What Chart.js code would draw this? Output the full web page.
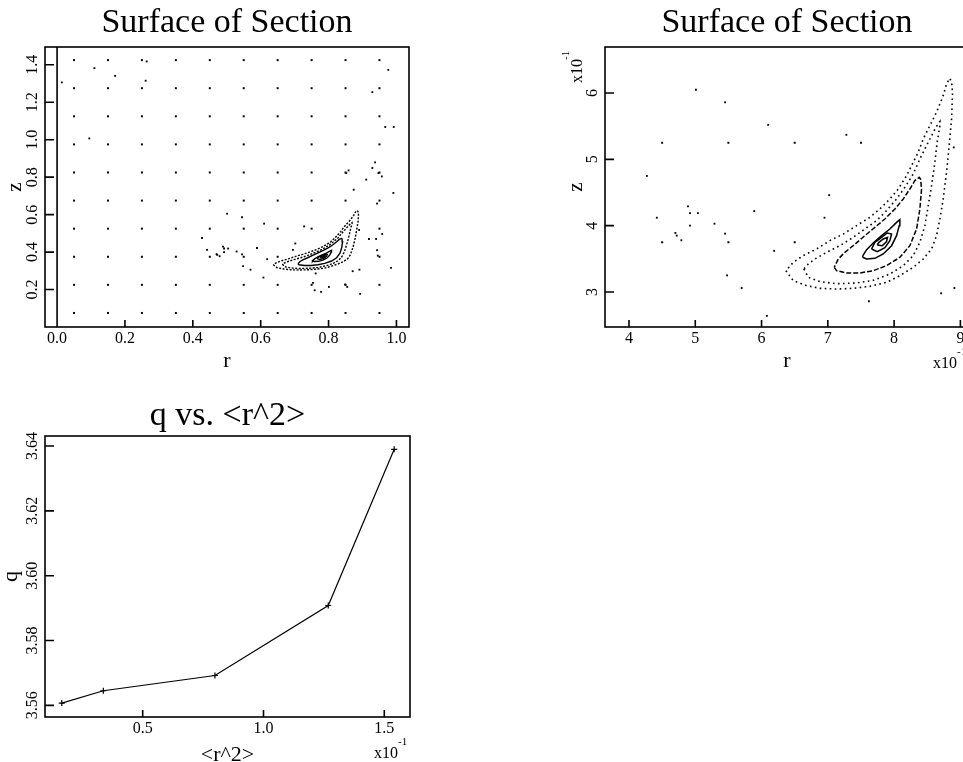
<!DOCTYPE html>
<html>
<head>
<meta charset="utf-8">
<title>Surface of Section</title>
<script src="https://cdn.jsdelivr.net/npm/chart.js@4.4.1/dist/chart.umd.min.js"></script>
<style>
  html, body { margin: 0; padding: 0; width: 963px; height: 762px; overflow: hidden; background: #fff; }
  canvas { position: absolute; }
  #sectionFull { left: 0; top: 0; }
  #sectionZoom { left: 540px; top: 0; }
  #qPlot { left: 0; top: 380px; }
</style>
</head>
<body>
<canvas id="sectionFull" width="440" height="372"></canvas>
<canvas id="sectionZoom" width="460" height="372"></canvas>
<canvas id="qPlot" width="440" height="382"></canvas>
<script>
// launch grid for the section, r and z
const gridR = [0.05, 0.15, 0.25, 0.35, 0.45, 0.55, 0.65, 0.75, 0.85, 0.95];
const gridZ = [0.075, 0.225, 0.375, 0.525, 0.675, 0.825, 0.975, 1.125, 1.275, 1.425];
// grid cells that stay bound (their orbits are the closed curves)
const gridBound = [[0.75, 0.375], [0.85, 0.375], [0.85, 0.525]];

// scattered crossings of escaping orbits
const strayPoints = [
    [0.501, 0.605], [0.545, 0.586], [0.610, 0.552], [0.728, 0.537], [0.890, 0.518],
    [0.427, 0.475], [0.702, 0.446], [0.489, 0.429], [0.492, 0.419], [0.504, 0.419],
    [0.589, 0.422], [0.442, 0.412], [0.695, 0.412], [0.529, 0.403], [0.492, 0.400],
    [0.470, 0.389], [0.472, 0.385], [0.545, 0.388], [0.479, 0.378], [0.619, 0.362],
    [0.548, 0.325], [0.570, 0.306], [0.891, 0.306], [0.871, 0.298], [0.762, 0.286],
    [0.608, 0.264],
    [0.014, 1.306], [0.110, 1.382], [0.171, 1.341], [0.264, 1.418], [0.261, 1.315],
    [0.095, 1.007], [0.976, 1.373], [0.929, 1.254], [0.967, 1.068], [0.992, 1.068],
    [0.937, 0.879], [0.929, 0.849], [0.859, 0.836], [0.852, 0.822], [0.947, 0.822],
    [0.957, 0.804], [0.911, 0.787], [0.874, 0.733], [0.991, 0.716], [0.943, 0.659],
    [0.958, 0.497], [0.919, 0.470], [0.940, 0.470], [0.943, 0.410], [0.945, 0.381],
    [0.984, 0.316], [0.849, 0.227], [0.855, 0.214], [0.893, 0.177], [0.754, 0.236],
    [0.759, 0.196], [0.778, 0.188], [0.801, 0.214]
];

// invariant curves around the stable orbit, outermost first
const orbitOuter = [
    [0.6368, 0.3321], [0.6478, 0.3171], [0.6680, 0.3095], [0.6881, 0.3055], [0.7132, 0.3045],
    [0.7383, 0.3055], [0.7635, 0.3085], [0.7886, 0.3145], [0.8087, 0.3246], [0.8288, 0.3372],
    [0.8439, 0.3497], [0.8565, 0.3648], [0.8640, 0.3849], [0.8691, 0.4101], [0.8741, 0.4402],
    [0.8791, 0.4805], [0.8831, 0.5207], [0.8867, 0.5609], [0.8882, 0.6011], [0.8867, 0.6162],
    [0.8841, 0.6222], [0.8791, 0.6137], [0.8741, 0.5961], [0.8640, 0.5710], [0.8540, 0.5508],
    [0.8439, 0.5307], [0.8364, 0.5106], [0.8288, 0.4955], [0.8188, 0.4754], [0.8062, 0.4553],
    [0.7936, 0.4402], [0.7786, 0.4252], [0.7635, 0.4126], [0.7434, 0.4000], [0.7233, 0.3874],
    [0.7031, 0.3774], [0.6830, 0.3648], [0.6629, 0.3548], [0.6478, 0.3447]
];
const orbitSecond = [
    [0.6639, 0.3347], [0.6705, 0.3221], [0.6881, 0.3156], [0.7132, 0.3125], [0.7434, 0.3135],
    [0.7685, 0.3176], [0.7936, 0.3271], [0.8138, 0.3397], [0.8288, 0.3548], [0.8389, 0.3749],
    [0.8464, 0.4000], [0.8515, 0.4302], [0.8565, 0.4603], [0.8615, 0.4955], [0.8650, 0.5257],
    [0.8691, 0.5508], [0.8691, 0.5569], [0.8630, 0.5483], [0.8515, 0.5257], [0.8389, 0.5006],
    [0.8288, 0.4779], [0.8163, 0.4578], [0.8037, 0.4402], [0.7886, 0.4226], [0.7735, 0.4076],
    [0.7559, 0.3950], [0.7383, 0.3824], [0.7182, 0.3698], [0.6981, 0.3598], [0.6805, 0.3497],
    [0.6705, 0.3422]
];
const orbitMiddle = [
    [0.7097, 0.3372], [0.7132, 0.3321], [0.7283, 0.3286], [0.7484, 0.3286], [0.7685, 0.3321],
    [0.7886, 0.3397], [0.8087, 0.3523], [0.8238, 0.3698], [0.8339, 0.3950], [0.8389, 0.4252],
    [0.8414, 0.4553], [0.8399, 0.4704], [0.8379, 0.4729], [0.8313, 0.4679], [0.8238, 0.4553],
    [0.8138, 0.4402], [0.8012, 0.4252], [0.7861, 0.4101], [0.7710, 0.3975], [0.7559, 0.3849],
    [0.7383, 0.3698], [0.7258, 0.3598], [0.7157, 0.3497]
];
const orbitInner = [
    [0.7524, 0.3523], [0.7585, 0.3497], [0.7710, 0.3507], [0.7836, 0.3573], [0.7962, 0.3698],
    [0.8037, 0.3849], [0.8077, 0.4000], [0.8087, 0.4091], [0.8037, 0.4050], [0.7936, 0.3950],
    [0.7811, 0.3849], [0.7685, 0.3739], [0.7585, 0.3638], [0.7534, 0.3558]
];
const orbitSmall = [
    [0.7660, 0.3648], [0.7745, 0.3608], [0.7861, 0.3668], [0.7936, 0.3774], [0.7962, 0.3874],
    [0.7896, 0.3890], [0.7811, 0.3824], [0.7710, 0.3749]
];
const orbitCore = [
    [0.7745, 0.3709], [0.7821, 0.3698], [0.7886, 0.3759], [0.7901, 0.3824], [0.7836, 0.3799],
    [0.7771, 0.3749]
];

// q against the mean square radius
const r2Mean = [0.0165, 0.0337, 0.0799, 0.1268, 0.1541];
const qValue = [3.5607, 3.5645, 3.5692, 3.5908, 3.6390];

// tick values and labels
const fullTicksR = [0, 0.2, 0.4, 0.6, 0.8, 1.0];
const fullLabelsR = ['0.0', '0.2', '0.4', '0.6', '0.8', '1.0'];
const fullTicksZ = [0.2, 0.4, 0.6, 0.8, 1.0, 1.2, 1.4];
const fullLabelsZ = ['0.2', '0.4', '0.6', '0.8', '1.0', '1.2', '1.4'];
const zoomTicksR = [0.4, 0.5, 0.6, 0.7, 0.8, 0.9];
const zoomLabelsR = ['4', '5', '6', '7', '8', '9'];
const zoomTicksZ = [0.3, 0.4, 0.5, 0.6];
const zoomLabelsZ = ['3', '4', '5', '6'];
const qTicksX = [0.05, 0.10, 0.15];
const qLabelsX = ['0.5', '1.0', '1.5'];
const qTicksY = [3.56, 3.58, 3.60, 3.62, 3.64];
const qLabelsY = ['3.56', '3.58', '3.60', '3.62', '3.64'];

const SERIF = '"Liberation Serif", "DejaVu Serif", serif';

function toXY(pairs) {
    return pairs.map(([x, y]) => ({ x, y }));
}

function closed(pairs) {
    return toXY(pairs.concat([pairs[0]]));
}

function gridPoints() {
    const pts = [];
    gridR.forEach(r => gridZ.forEach(z => {
        if (!gridBound.some(([br, bz]) => br === r && bz === z)) pts.push({ x: r, y: z });
    }));
    return pts;
}

function rotatedText(ctx, text, x, y, font) {
    ctx.save();
    ctx.font = font;
    ctx.translate(x, y);
    ctx.rotate(-Math.PI / 2);
    ctx.fillText(text, 0, 0);
    ctx.restore();
}

// box, inward ticks, labels and titles drawn from the chart's own scales
function framePlugin(o) {
    return {
        id: 'frame',
        afterDraw(chart) {
            const { ctx, chartArea: a, scales: { x, y } } = chart;
            ctx.save();
            ctx.strokeStyle = '#000';
            ctx.fillStyle = '#000';
            ctx.lineWidth = 1.6;
            ctx.strokeRect(a.left, a.top, a.right - a.left, a.bottom - a.top);

            ctx.beginPath();
            if (o.zeroLine) {
                const px = x.getPixelForValue(0);
                ctx.moveTo(px, a.top);
                ctx.lineTo(px, a.bottom);
            }
            o.xTicks.forEach(v => {
                const px = x.getPixelForValue(v);
                ctx.moveTo(px, a.bottom);
                ctx.lineTo(px, a.bottom - 7);
            });
            o.yTicks.forEach(v => {
                const py = y.getPixelForValue(v);
                ctx.moveTo(a.left, py);
                ctx.lineTo(a.left + 9, py);
            });
            ctx.stroke();

            ctx.textAlign = 'center';
            ctx.textBaseline = 'alphabetic';
            ctx.font = '16px ' + SERIF;
            o.xTicks.forEach((v, i) => ctx.fillText(o.xLabels[i], x.getPixelForValue(v), a.bottom + 16));
            o.yTicks.forEach((v, i) => rotatedText(ctx, o.yLabels[i], a.left - 8, y.getPixelForValue(v), '16px ' + SERIF));

            const cx = (a.left + a.right) / 2;
            ctx.font = '34px ' + SERIF;
            ctx.fillText(o.title, cx, a.top - o.titleGap);

            ctx.font = o.xTitleFont;
            ctx.fillText(o.xTitle, cx, a.bottom + o.xTitleGap);
            rotatedText(ctx, o.yTitle, a.left - o.yTitleGap, (a.top + a.bottom) / 2, o.yTitleFont);

            if (o.xExponent) {
                ctx.textAlign = 'right';
                ctx.font = '16px ' + SERIF;
                ctx.fillText('x10', a.right - 12, a.bottom + 41);
                ctx.textAlign = 'left';
                ctx.font = '11px ' + SERIF;
                ctx.fillText('-1', a.right - 12, a.bottom + 28);
            }
            if (o.yExponent) {
                ctx.textAlign = 'left';
                rotatedText(ctx, 'x10', a.left - 23, a.top + 36, '16px ' + SERIF);
                rotatedText(ctx, '-1', a.left - 36, a.top + 13, '11px ' + SERIF);
            }
            ctx.restore();
        }
    };
}

function sectionDatasets(style) {
    const line = (pairs, dash, width) => ({
        data: closed(pairs),
        showLine: true,
        borderColor: '#000',
        borderWidth: width,
        borderDash: dash,
        pointRadius: 0
    });
    return [
        {
            data: gridPoints(),
            pointStyle: 'rect',
            pointRadius: 1.4,
            pointBackgroundColor: '#000',
            pointBorderWidth: 0
        },
        {
            data: toXY(strayPoints),
            pointStyle: 'rect',
            pointRadius: 1.3,
            pointBackgroundColor: '#000',
            pointBorderWidth: 0
        },
        line(orbitOuter, style.outerDash, style.outerWidth),
        line(orbitSecond, style.outerDash, style.outerWidth),
        line(orbitMiddle, style.middleDash, style.innerWidth),
        line(orbitInner, [], style.innerWidth),
        line(orbitSmall, [], style.innerWidth),
        line(orbitCore, [], style.innerWidth)
    ];
}

function baseOptions(padding, xRange, yRange) {
    return {
        responsive: false,
        animation: false,
        layout: { padding },
        plugins: { legend: { display: false }, tooltip: { enabled: false } },
        scales: {
            x: { type: 'linear', display: false, min: xRange[0], max: xRange[1] },
            y: { type: 'linear', display: false, min: yRange[0], max: yRange[1] }
        }
    };
}

new Chart(document.getElementById('sectionFull'), {
    type: 'scatter',
    data: { datasets: sectionDatasets({ outerDash: [2, 1.5], outerWidth: 1.4, middleDash: [], innerWidth: 1.4 }) },
    options: baseOptions({ left: 45, top: 47, right: 31, bottom: 45 }, [-0.0356, 1.037], [0, 1.495]),
    plugins: [framePlugin({
        title: 'Surface of Section', titleGap: 15,
        xTicks: fullTicksR, xLabels: fullLabelsR,
        yTicks: fullTicksZ, yLabels: fullLabelsZ,
        xTitle: 'r', xTitleGap: 40, xTitleFont: '22px ' + SERIF,
        yTitle: 'z', yTitleGap: 24, yTitleFont: '21px ' + SERIF,
        zeroLine: true
    })]
});

new Chart(document.getElementById('sectionZoom'), {
    type: 'scatter',
    data: { datasets: sectionDatasets({ outerDash: [1.6, 3.4], outerWidth: 1.6, middleDash: [5, 2], innerWidth: 1.5 }) },
    options: baseOptions({ left: 65, top: 47, right: 31, bottom: 45 }, [0.3638, 0.913], [0.2472, 0.6694]),
    plugins: [framePlugin({
        title: 'Surface of Section', titleGap: 15,
        xTicks: zoomTicksR, xLabels: zoomLabelsR,
        yTicks: zoomTicksZ, yLabels: zoomLabelsZ,
        xTitle: 'r', xTitleGap: 40, xTitleFont: '22px ' + SERIF,
        yTitle: 'z', yTitleGap: 23, yTitleFont: '21px ' + SERIF,
        xExponent: true, yExponent: true
    })]
});

new Chart(document.getElementById('qPlot'), {
    type: 'scatter',
    data: {
        datasets: [{
            data: r2Mean.map((v, i) => ({ x: v, y: qValue[i] })),
            showLine: true,
            borderColor: '#000',
            borderWidth: 1.2,
            pointStyle: 'cross',
            pointRadius: 3,
            pointBorderColor: '#000',
            pointBorderWidth: 1.2
        }]
    },
    options: baseOptions({ left: 45, top: 56, right: 30, bottom: 45 }, [0.00956, 0.16064], [3.5564, 3.6431]),
    plugins: [framePlugin({
        title: 'q vs. <r^2>', titleGap: 11,
        xTicks: qTicksX, xLabels: qLabelsX,
        yTicks: qTicksY, yLabels: qLabelsY,
        xTitle: '<r^2>', xTitleGap: 44, xTitleFont: '22px ' + SERIF,
        yTitle: 'q', yTitleGap: 28, yTitleFont: '22px ' + SERIF,
        xExponent: true
    })]
});
</script>
</body>
</html>
